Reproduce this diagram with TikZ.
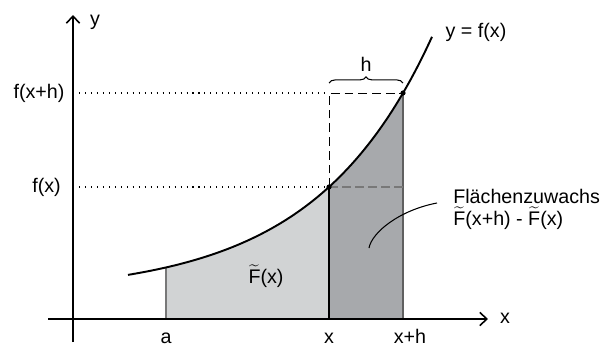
\documentclass[tikz,border=0pt]{standalone}
\usepackage{fontspec}
\setmainfont{Liberation Sans}
\usetikzlibrary{arrows.meta,decorations.pathreplacing}
\definecolor{lightfill}{RGB}{209,211,212}
\definecolor{darkfill}{RGB}{167,169,172}
\definecolor{edgegray}{RGB}{120,120,120}
\newcommand{\tildeF}{$\widetilde{\hbox{F}}$}
\begin{document}
\begin{tikzpicture}[x=0.02cm,y=-0.02cm,
  font=\fontsize{11.2}{13}\selectfont,
  axis/.style={line width=0.9pt,-{Straight Barb[length=4pt,width=7.5pt,line width=0.9pt]}},
  curve/.style={line width=1.1pt},
  dotline/.style={line width=0.6pt,dash pattern=on 0.6pt off 2.8pt},
  dashline/.style={line width=0.5pt,dash pattern=on 5pt off 2.8pt},
  graydash/.style={line width=0.9pt,edgegray,dash pattern=on 5pt off 2.4pt},
  lbl/.style={inner sep=0pt}]
\useasboundingbox (0,0) rectangle (602,345);
% named points
\coordinate (A0) at (166,319);
\coordinate (A1) at (166,267);
\coordinate (X0) at (329,319);
\coordinate (X1) at (329,187);
\coordinate (H0) at (403,319);
\coordinate (H1) at (403,93);
\coordinate (Xtop) at (329,93);
\coordinate (Hmid) at (403,187);
\coordinate (Yfx) at (73,187);
\coordinate (Yfxh) at (73,93);
\coordinate (Ybot) at (73,342);
\coordinate (Ytop) at (73,15);
\coordinate (Xleft) at (48,319);
\coordinate (Xright) at (488,319);
\coordinate (L0) at (437,203);
\coordinate (L1) at (369,248);
% fills
\fill[lightfill] plot[domain=166:329,samples=60] (\x,{319-24.7-107.3*exp(0.0085*(\x-329))}) -- (X0) -- (A0) -- cycle;
\fill[darkfill] plot[domain=329:403,samples=40] (\x,{319-24.7-107.3*exp(0.0085*(\x-329))}) -- (H0) -- (X0) -- cycle;
% verticals
\draw[edgegray,line width=0.7pt] (A0) -- (A1);
\draw[black,line width=0.6pt] (X0) -- (X1);
\draw[edgegray!80!black,line width=0.9pt] (H0) -- (H1);
% helper lines
\draw[dotline] (Yfxh) -- (Xtop);
\draw[dotline] (Yfx) -- (X1);
\draw[dashline] (X1) -- (Xtop) -- (H1);
\draw[graydash] (X1) -- (Hmid);
% curve
\draw[curve] plot[domain=128:432,samples=100] (\x,{319-24.7-107.3*exp(0.0085*(\x-329))});
% axes
\draw[axis] (Xleft) -- (Xright);
\draw[axis] (Ybot) -- (Ytop);
% dots
\fill (X1) circle[radius=2.6];
\fill (H1) circle[radius=2.6];
% brace
\draw[line width=0.6pt,decorate,decoration={brace,amplitude=3.5pt}] (329,83) -- (403,83);
% leader
\draw[line width=0.6pt] (L0) .. controls (400,210) and (372,232) .. (L1);
% labels
\node[lbl] (ly) at (95,22) {y};
\node[lbl] (lx) at (505,318) {x};
\node[lbl] (lfxh) at (39,93) {f(x+h)};
\node[lbl] (lfx) at (46.5,187) {f(x)};
\node[lbl] (lh) at (366,64) {h};
\node[lbl] (lyf) at (476,32) {y = f(x)};
\node[lbl,anchor=base] (la) at (166,343) {a};
\node[lbl,anchor=base] (lxx) at (329,343) {x};
\node[lbl,anchor=base] (lxh) at (410,343) {x+h};
\node[lbl,anchor=base] (lF) at (266,283) {\tildeF(x)};
\node[lbl,anchor=base west] (lz1) at (453,203) {Flächenzuwachs};
\node[lbl,anchor=base west] (lz2) at (453,225) {\tildeF(x+h) - \tildeF(x)};
\end{tikzpicture}
\end{document}
